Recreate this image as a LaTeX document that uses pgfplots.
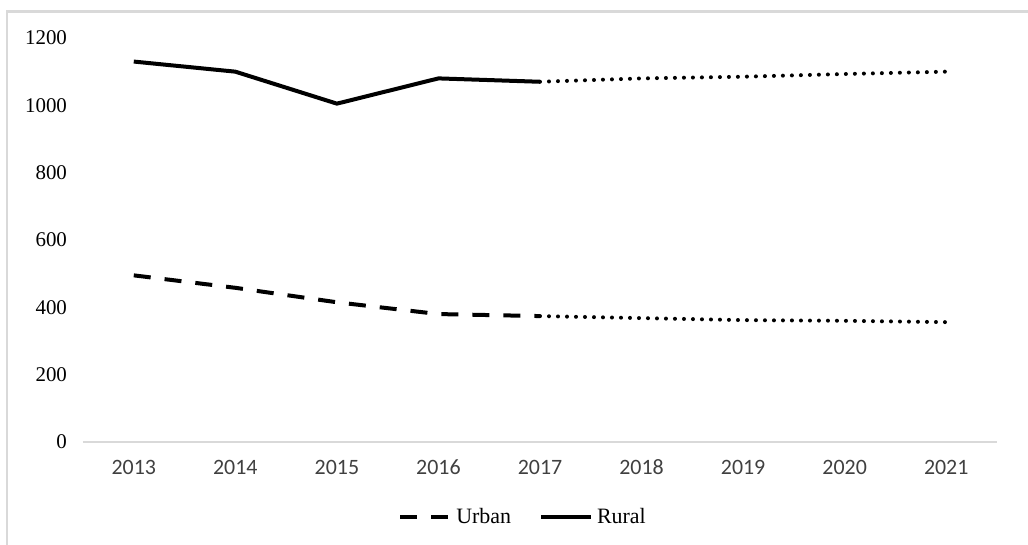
\documentclass[border=0pt]{standalone}
\usepackage{pgfplots}
\pgfplotsset{compat=1.18}
\usepackage{fontspec}
\setmainfont{Liberation Serif}
\newfontfamily\carlito{Carlito}
\definecolor{frame}{HTML}{D9D9D9}
\definecolor{ticktext}{HTML}{404040}
\begin{document}
\begin{tikzpicture}
\path[use as bounding box] (0,0) rectangle (514bp,272.5bp);
\draw[frame, line width=1.2bp] (3.5bp,0) -- (3.5bp,266.8bp) -- (514bp,266.8bp);
\begin{axis}[
  at={(41.5bp,51.5bp)}, anchor=south west,
  scale only axis, width=457bp, height=202bp,
  xmin=-0.5, xmax=8.5, ymin=0, ymax=1200,
  xtick={0,...,8},
  xticklabels={2013,2014,2015,2016,2017,2018,2019,2020,2021},
  ytick={0,200,...,1200},
  scaled y ticks=false,
  /pgf/number format/1000 sep={},
  /pgf/number format/assume math mode=true,
  axis x line*=bottom, axis y line*=left,
  x axis line style={draw=frame, line width=0.8bp, -},
  y axis line style={draw=none},
  major tick length=0pt,
  xticklabel style={font=\carlito\fontsize{11}{12}\selectfont, text=ticktext,
    text height=7.5bp, text depth=0bp, yshift=-5bp},
  yticklabel style={font=\fontsize{10.5}{12}\selectfont, text=black, xshift=-4.5bp},
  legend columns=2,
  legend style={draw=none, fill=none, at={(0.4825,-0.1856)}, anchor=center,
    font=\fontsize{11}{12}\selectfont,
    /tikz/every even column/.append style={column sep=12bp}},
  legend image code/.code={\draw[#1] (0bp,0bp) -- (25bp,0bp);},
]
\addplot[black, line width=2bp, dash pattern=on 8.5bp off 7bp] coordinates {
  (0,495) (1,458) (2,415) (3,380) (4,374)};
\addlegendentry{Urban}
\addplot[black, line width=2bp] coordinates {
  (0,1130) (1,1100) (2,1005) (3,1080) (4,1070)};
\addlegendentry{Rural}
\addplot[forget plot, black, line width=2bp, line cap=round, dash pattern=on 0bp off 4.5bp] coordinates {
  (4,374) (5,368) (6,362) (7,360) (8,356)};
\addplot[forget plot, black, line width=2bp, line cap=round, dash pattern=on 0bp off 4.5bp] coordinates {
  (4,1070) (5,1080) (6,1085) (7,1093) (8,1100)};
\end{axis}
\end{tikzpicture}
\end{document}
